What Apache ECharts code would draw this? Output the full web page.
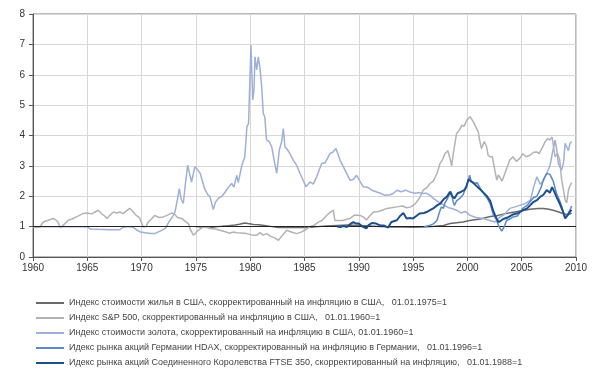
<!DOCTYPE html>
<html>
<head>
<meta charset="utf-8">
<script src="https://cdn.jsdelivr.net/npm/echarts@6/dist/echarts.min.js"></script>
<style>html,body{margin:0;padding:0;background:#fff}#c{width:600px;height:380px}</style>
</head>
<body>
<div id="c"></div>
<script>
const names = [
  'Индекс стоимости жилья в США, скорректированный на инфляцию в США,   01.01.1975=1',
  'Индекс S&P 500, скорректированный на инфляцию в США,   01.01.1960=1',
  'Индекс стоимости золота, скорректированный на инфляцию в США, 01.01.1960=1',
  'Идекс рынка акций Германии HDAX, скорректированный на инфляцию в Германии,   01.01.1996=1',
  'Идекс рынка акций Соединенного Королевства FTSE 350, скорректированный на инфляцию,   01.01.1988=1'
];
const xTicks = [1960,1965,1970,1975,1980,1985,1990,1995,2000,2005,2010];
const yTicks = [0,1,2,3,4,5,6,7,8];

const housing = [[1975,1.0],[1975.5,0.99],[1976,1.0],[1976.5,0.98],[1977,1.0],[1977.4,1.01],[1978,1.03],[1978.6,1.05],[1979,1.08],[1979.5,1.12],[1979.8,1.1],[1980.3,1.07],[1980.8,1.06],[1981.3,1.04],[1982,1.0],[1982.6,0.97],[1983.2,0.98],[1983.8,0.97],[1984.5,0.98],[1985,0.97],[1985.6,0.98],[1986.2,1.0],[1987,1.02],[1988,1.04],[1989,1.05],[1990,1.04],[1991,1.02],[1992,1.0],[1993,0.99],[1994,0.99],[1995,0.98],[1996,0.99],[1997,1.01],[1997.8,1.04],[1998.4,1.1],[1999,1.13],[1999.6,1.15],[2000.2,1.2],[2001.2,1.25],[2002.1,1.33],[2002.7,1.36],[2003.4,1.42],[2004.2,1.47],[2005,1.52],[2005.76,1.57],[2006.5,1.6],[2007,1.6],[2007.5,1.57],[2007.9,1.54],[2008.4,1.48],[2008.8,1.43],[2009.1,1.4],[2009.45,1.42],[2009.6,1.44]];

const sp500 = [[1960,1.0],[1960.3,0.97],[1960.6,0.98],[1960.95,1.15],[1961.4,1.21],[1961.87,1.27],[1962.1,1.22],[1962.3,1.15],[1962.5,0.97],[1962.8,1.05],[1963.25,1.21],[1963.6,1.25],[1964,1.32],[1964.6,1.43],[1965.0,1.45],[1965.4,1.42],[1965.55,1.48],[1966,1.54],[1966.3,1.43],[1966.6,1.35],[1966.8,1.27],[1967.1,1.38],[1967.4,1.48],[1967.7,1.45],[1968,1.48],[1968.3,1.43],[1968.6,1.52],[1968.9,1.6],[1969.2,1.5],[1969.5,1.37],[1969.8,1.3],[1970.15,0.99],[1970.4,1.0],[1970.6,1.15],[1970.9,1.25],[1971.2,1.37],[1971.6,1.3],[1972,1.32],[1972.4,1.38],[1972.77,1.45],[1973.0,1.42],[1973.3,1.3],[1973.7,1.27],[1974.0,1.18],[1974.3,1.1],[1974.5,0.9],[1974.76,0.72],[1975.0,0.8],[1975.2,0.88],[1975.7,0.99],[1976.0,0.97],[1976.3,0.94],[1976.8,0.92],[1977.2,0.88],[1977.8,0.82],[1978.1,0.78],[1978.4,0.82],[1978.8,0.8],[1979.2,0.79],[1979.68,0.77],[1980.2,0.72],[1980.6,0.72],[1980.9,0.8],[1981.2,0.72],[1981.5,0.77],[1981.9,0.68],[1982.3,0.62],[1982.6,0.55],[1982.9,0.68],[1983.36,0.88],[1983.6,0.85],[1984.0,0.8],[1984.3,0.77],[1984.7,0.82],[1985.0,0.88],[1985.5,0.99],[1985.9,1.05],[1986.27,1.15],[1986.6,1.2],[1987.04,1.37],[1987.3,1.45],[1987.65,1.54],[1987.8,1.2],[1987.96,1.15],[1988.5,1.2],[1989.19,1.27],[1989.6,1.38],[1990.1,1.37],[1990.4,1.32],[1990.7,1.22],[1991.0,1.35],[1991.35,1.48],[1991.8,1.5],[1992.2,1.55],[1992.6,1.6],[1993.0,1.62],[1993.5,1.65],[1994.0,1.68],[1994.4,1.62],[1994.8,1.65],[1995.2,1.75],[1995.6,1.95],[1995.94,2.2],[1996.3,2.3],[1996.56,2.42],[1996.86,2.5],[1997.2,2.75],[1997.48,3.08],[1997.7,3.2],[1997.94,3.41],[1998.2,3.5],[1998.4,3.24],[1998.55,3.0],[1998.7,3.4],[1999,4.07],[1999.3,4.2],[1999.5,4.34],[1999.7,4.3],[1999.93,4.5],[2000.1,4.45],[2000.25,4.62],[2000.4,4.56],[2000.55,4.45],[2000.7,4.4],[2001,4.12],[2001.15,3.8],[2001.3,3.57],[2001.55,3.8],[2001.77,3.63],[2001.9,3.35],[2002.1,3.3],[2002.3,3.3],[2002.5,2.9],[2002.7,2.53],[2002.85,2.7],[2003.0,2.64],[2003.2,2.5],[2003.5,2.8],[2003.9,3.19],[2004.2,3.3],[2004.5,3.15],[2004.8,3.24],[2005.1,3.4],[2005.4,3.3],[2005.76,3.35],[2006.1,3.45],[2006.4,3.46],[2006.6,3.4],[2006.9,3.6],[2007.15,3.79],[2007.4,3.9],[2007.6,3.85],[2007.8,3.95],[2008.07,3.3],[2008.3,3.4],[2008.5,3.2],[2008.68,2.53],[2008.85,2.2],[2009.0,1.87],[2009.15,1.78],[2009.3,2.2],[2009.45,2.35],[2009.6,2.45]];

const gold = [[1960,1.0],[1961,1.0],[1962,1.0],[1963,1.0],[1964,1.0],[1965,0.99],[1965.3,0.92],[1966,0.91],[1967,0.9],[1968,0.9],[1968.3,0.98],[1968.8,1.0],[1969.2,0.98],[1969.6,0.88],[1969.9,0.82],[1970.3,0.8],[1970.8,0.77],[1971.2,0.77],[1971.7,0.85],[1972.2,0.94],[1972.5,1.15],[1972.8,1.3],[1973.07,1.48],[1973.3,1.9],[1973.47,2.25],[1973.65,1.9],[1973.84,1.76],[1974.0,2.3],[1974.24,3.02],[1974.45,2.7],[1974.6,2.47],[1974.9,2.97],[1975.1,2.9],[1975.4,2.75],[1975.8,2.25],[1976.1,2.05],[1976.3,1.98],[1976.6,1.56],[1976.8,1.8],[1977.06,1.93],[1977.4,2.0],[1977.7,2.14],[1978.0,2.3],[1978.3,2.42],[1978.5,2.3],[1978.76,2.69],[1978.9,2.45],[1979.2,2.97],[1979.5,3.3],[1979.7,4.29],[1979.85,4.4],[1980.07,6.98],[1980.23,5.17],[1980.35,5.5],[1980.44,6.59],[1980.6,6.16],[1980.75,6.59],[1980.9,6.2],[1981.06,5.6],[1981.2,4.73],[1981.35,4.6],[1981.5,3.85],[1981.75,3.8],[1981.98,3.63],[1982.2,3.2],[1982.44,2.75],[1982.68,3.52],[1982.9,3.8],[1983.05,4.23],[1983.2,3.63],[1983.5,3.5],[1983.97,3.19],[1984.3,3.0],[1984.59,2.75],[1984.9,2.5],[1985.14,2.31],[1985.5,2.47],[1985.8,2.4],[1986.12,2.64],[1986.58,3.08],[1986.9,3.1],[1987.35,3.41],[1987.6,3.45],[1987.9,3.57],[1988.27,3.19],[1988.73,2.86],[1989.19,2.53],[1989.5,2.55],[1989.8,2.69],[1990.1,2.5],[1990.4,2.31],[1990.8,2.3],[1991.2,2.2],[1991.65,2.14],[1992.0,2.1],[1992.4,2.03],[1992.9,2.05],[1993.2,2.1],[1993.5,2.2],[1993.9,2.15],[1994.3,2.2],[1994.7,2.14],[1995.2,2.1],[1995.6,2.12],[1995.9,2.09],[1996.2,2.1],[1996.56,2.03],[1996.87,1.93],[1997.2,1.85],[1997.5,1.76],[1997.8,1.72],[1998.3,1.62],[1998.7,1.58],[1999.0,1.54],[1999.4,1.45],[1999.8,1.5],[2000.24,1.37],[2000.8,1.3],[2001.47,1.27],[2001.9,1.22],[2002.54,1.15],[2002.7,1.12],[2003.0,1.32],[2003.4,1.4],[2003.9,1.6],[2004.4,1.65],[2004.8,1.7],[2005.3,1.75],[2005.8,1.87],[2006.1,2.3],[2006.4,2.64],[2006.7,2.4],[2007.0,2.5],[2007.3,2.75],[2007.6,3.0],[2007.76,3.3],[2008.07,3.85],[2008.2,3.6],[2008.37,3.08],[2008.68,2.86],[2008.85,3.1],[2009.0,3.74],[2009.14,3.63],[2009.3,3.5],[2009.45,3.74],[2009.6,3.8]];

const hdax = [[1996.0,1.0],[1996.3,1.02],[1996.6,1.05],[1996.9,1.1],[1997.2,1.2],[1997.4,1.45],[1997.6,1.65],[1997.8,1.6],[1997.9,1.76],[1998.2,1.95],[1998.5,2.15],[1998.7,1.8],[1998.8,1.7],[1999.0,1.85],[1999.3,1.93],[1999.6,2.05],[1999.9,2.31],[2000.2,2.69],[2000.35,2.5],[2000.5,2.55],[2000.7,2.42],[2000.9,2.45],[2001.2,2.25],[2001.5,2.1],[2001.8,1.95],[2002.1,1.75],[2002.4,1.37],[2002.65,1.25],[2002.85,1.05],[2003.0,0.95],[2003.16,0.85],[2003.4,1.0],[2003.6,1.2],[2003.9,1.25],[2004.2,1.32],[2004.6,1.35],[2005.1,1.6],[2005.5,1.7],[2006.07,1.95],[2006.4,2.0],[2006.8,2.3],[2007.0,2.55],[2007.3,2.75],[2007.6,2.72],[2007.9,2.5],[2008.2,2.1],[2008.5,1.85],[2008.7,1.65],[2008.85,1.45],[2009.0,1.3],[2009.15,1.25],[2009.3,1.45],[2009.45,1.55],[2009.6,1.68]];

const ftse = [[1988.0,1.0],[1988.3,0.99],[1988.6,1.02],[1988.9,0.99],[1989.2,1.08],[1989.5,1.15],[1989.75,1.1],[1990.0,1.1],[1990.4,0.99],[1990.7,0.94],[1990.9,1.05],[1991.2,1.12],[1991.6,1.1],[1991.95,1.04],[1992.3,1.04],[1992.7,0.97],[1993.0,1.15],[1993.5,1.21],[1993.8,1.35],[1994.1,1.45],[1994.4,1.27],[1994.8,1.28],[1995.0,1.27],[1995.3,1.35],[1995.6,1.43],[1996.0,1.45],[1996.25,1.48],[1996.6,1.55],[1996.86,1.6],[1997.2,1.7],[1997.5,1.76],[1997.8,1.9],[1998.1,1.98],[1998.4,2.15],[1998.6,2.0],[1998.8,1.93],[1999.1,2.1],[1999.4,2.14],[1999.7,2.2],[1999.9,2.31],[2000.1,2.55],[2000.25,2.6],[2000.5,2.45],[2000.8,2.35],[2001.1,2.25],[2001.47,2.12],[2001.8,2.0],[2002.1,1.85],[2002.35,1.55],[2002.55,1.37],[2002.85,1.15],[2003.1,1.2],[2003.3,1.25],[2003.7,1.3],[2004.2,1.4],[2004.7,1.45],[2005.1,1.54],[2005.5,1.6],[2006.07,1.81],[2006.4,1.87],[2006.7,1.98],[2007.0,2.05],[2007.3,2.2],[2007.6,2.12],[2007.8,2.3],[2008.0,2.15],[2008.2,1.98],[2008.5,1.76],[2008.8,1.5],[2009.0,1.27],[2009.1,1.25],[2009.3,1.4],[2009.45,1.5],[2009.6,1.55]];

const colors = ['#6a6a6a','#b3b3b3','#9eb0d8','#5b8bc8','#1d4f8c'];
const widths = [1.5,1.5,1.5,1.5,2];
const datasets = [housing, sp500, gold, hdax, ftse];

const chart = echarts.init(document.getElementById('c'), null, {renderer:'canvas'});
const series = datasets.map((d,i)=>({
  name: names[i], type:'line', data:d, symbol:'none', smooth:false,
  lineStyle:{color:colors[i], width:widths[i]}, itemStyle:{color:colors[i]},
  z: 2+i, animation:false
}));
series.push({
  type:'line', data:[], symbol:'none', silent:true, animation:false,
  markLine:{silent:true, symbol:['none','none'], label:{show:false},
    lineStyle:{color:'#222', width:1, type:'solid'}, data:[{yAxis:1}]}
});
chart.setOption({
  animation:false,
  grid:{left:33, right:24, top:14, bottom:123, show:true, borderColor:'#777', borderWidth:1},
  xAxis:{type:'value', min:xTicks[0], max:xTicks[xTicks.length-1], interval:5,
    axisLine:{lineStyle:{color:'#555'}}, axisTick:{show:true, length:4, lineStyle:{color:'#555'}},
    axisLabel:{color:'#333', fontSize:10, fontFamily:'Liberation Sans, Arial', margin:6, formatter:v=>String(v)},
    splitLine:{show:true, lineStyle:{color:'#d8d8d8'}}},
  yAxis:{type:'value', min:yTicks[0], max:yTicks[yTicks.length-1], interval:1,
    axisLine:{show:true, lineStyle:{color:'#555'}}, axisTick:{show:true, length:4, lineStyle:{color:'#555'}},
    axisLabel:{color:'#333', fontSize:10, fontFamily:'Liberation Sans, Arial', margin:8},
    splitLine:{show:true, lineStyle:{color:'#d8d8d8'}}},
  legend:{orient:'vertical', left:31, top:292, itemWidth:28, itemHeight:2, itemGap:3, icon:'rect',
    data:names, selectedMode:false,
    textStyle:{color:'#444', fontSize:9, lineHeight:12, fontFamily:'Liberation Sans, Arial'}},
  series: series
});
</script>
</body>
</html>
